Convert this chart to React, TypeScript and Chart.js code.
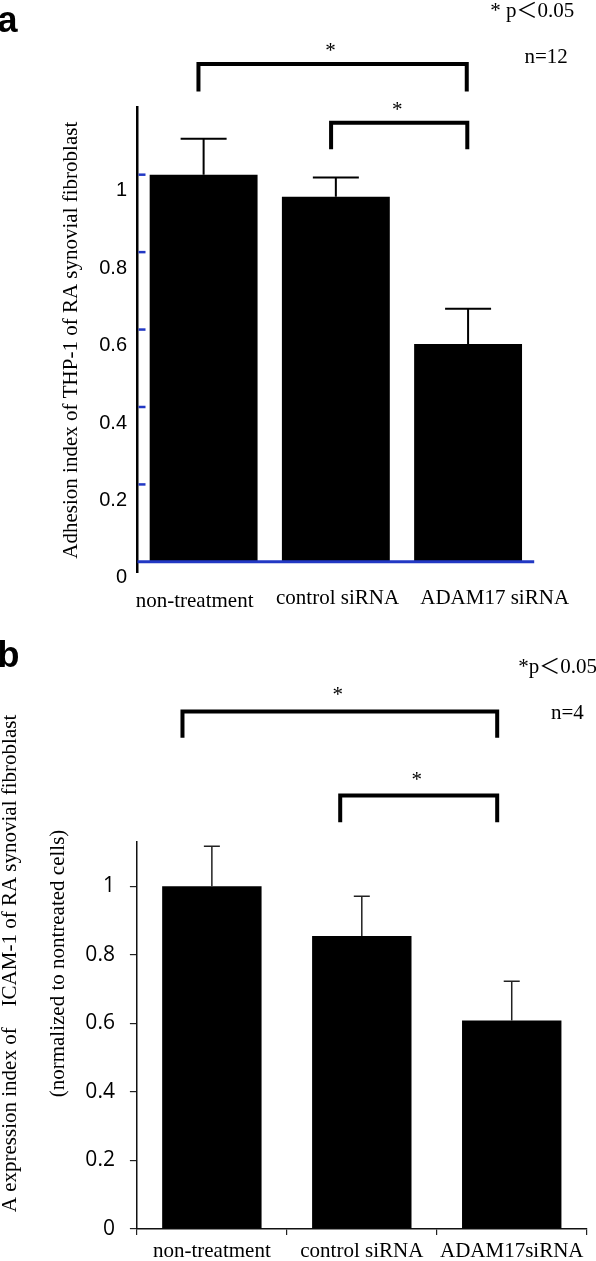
import React, { useEffect, useRef } from 'react';
import { Chart, registerables } from 'chart.js';

Chart.register(...registerables);

// ---------------- Panel a data ----------------
const categoriesA = ['non-treatment', 'control siRNA', 'ADAM17 siRNA'];
const adhesionMeans = [1.0, 0.943, 0.563];
const adhesionErrors = [0.093, 0.05, 0.091];
const yTickValuesA = [0, 0.2, 0.4, 0.6, 0.8, 1];
const yTickLabelsA = ['0', '0.2', '0.4', '0.6', '0.8', '1'];
const yTitleA = 'Adhesion index of THP-1 of RA synovial fibroblast';
const panelLabelA = 'a';
const significanceA = '* p\uFF1C0.05';
const sampleSizeA = 'n=12';
const comparisonsA = [[0, 2], [1, 2]];
const starTextA = ['*', '*'];

// ---------------- Panel b data ----------------
const categoriesB = ['non-treatment', 'control siRNA', 'ADAM17siRNA'];
const icamMeans = [1.0, 0.855, 0.608];
const icamErrors = [0.117, 0.116, 0.115];
const yTickValuesB = [0, 0.2, 0.4, 0.6, 0.8, 1];
const yTickLabelsB = ['0', '0.2', '0.4', '0.6', '0.8', '1'];
const yTitleB = [
  'A expression index of\u3000ICAM-1 of RA synovial fibroblast',
  '(normalized to nontreated cells)',
];
const panelLabelB = 'b';
const significanceB = '*p\uFF1C0.05';
const sampleSizeB = 'n=4';
const comparisonsB = [[0, 2], [1, 2]];
const starTextB = ['*', '*'];

// ---------------- styling / layout ----------------
const SERIF = '"Liberation Serif", "Noto Sans CJK JP", serif';
const SANS = '"Liberation Sans", Arial, sans-serif';
const BLUE = '#2238c4';

// bracket geometry: offsets (in category units) from the compared categories, heights in data units
const bracketGeomA = [
  { dx0: -0.039, dx1: -0.01, top: 1.286, leg: 1.215, star: 1.331 },
  { dx0: -0.036, dx1: -0.006, top: 1.134, leg: 1.066, star: 1.1785 },
];
const bracketGeomB = [
  { dx0: -0.196, dx1: -0.097, top: 1.51, leg: 1.4335, star: 1.5685 },
  { dx0: -0.144, dx1: -0.097, top: 1.265, leg: 1.187, star: 1.3207 },
];

function drawBrackets(chart: any, pairs: number[][], geom: any[], stars: string[], lw: number) {
  const { ctx, scales } = chart;
  const x = scales.x;
  const y = scales.y;
  ctx.save();
  ctx.strokeStyle = '#000';
  ctx.lineWidth = lw;
  ctx.lineJoin = 'miter';
  ctx.lineCap = 'butt';
  pairs.forEach((p, i) => {
    const g = geom[i];
    const x0 = x.getPixelForValue(p[0] + g.dx0);
    const x1 = x.getPixelForValue(p[1] + g.dx1);
    const yt = y.getPixelForValue(g.top);
    const yl = y.getPixelForValue(g.leg);
    ctx.beginPath();
    ctx.moveTo(x0, yl);
    ctx.lineTo(x0, yt);
    ctx.lineTo(x1, yt);
    ctx.lineTo(x1, yl);
    ctx.stroke();
    const ys = y.getPixelForValue(g.star);
    ctx.fillStyle = '#000';
    ctx.font = '21px ' + SERIF;
    ctx.textAlign = 'center';
    ctx.textBaseline = 'alphabetic';
    ctx.fillText(stars[i], (x0 + x1) / 2 - 2, ys + 10);
  });
  ctx.restore();
}

function errorBars(errors: number[], color: string, lw: number, cap: number) {
  return {
    id: 'errorBars',
    afterDatasetsDraw(chart: any) {
      const { ctx } = chart;
      const y = chart.scales.y;
      const meta = chart.getDatasetMeta(0);
      const values = chart.data.datasets[0].data as number[];
      ctx.save();
      ctx.strokeStyle = color;
      ctx.lineWidth = lw;
      meta.data.forEach((bar: any, i: number) => {
        const bx = bar.x;
        const y0 = y.getPixelForValue(values[i]);
        const y1 = y.getPixelForValue(values[i] + errors[i]);
        ctx.beginPath();
        ctx.moveTo(bx, y0);
        ctx.lineTo(bx, y1);
        ctx.moveTo(bx - cap / 2, y1);
        ctx.lineTo(bx + cap / 2, y1);
        ctx.stroke();
      });
      ctx.restore();
    },
  };
}

const annotationsA = {
  id: 'annotationsA',
  afterDraw(chart: any) {
    const { ctx, chartArea, scales } = chart;
    const x = scales.x;
    const y = scales.y;
    ctx.save();
    // blue inner ticks
    ctx.strokeStyle = BLUE;
    ctx.lineWidth = 2.5;
    yTickValuesA.forEach((v) => {
      if (v === 0) return;
      const py = y.getPixelForValue(v);
      ctx.beginPath();
      ctx.moveTo(chartArea.left + 1, py);
      ctx.lineTo(chartArea.left + 8, py);
      ctx.stroke();
    });
    // blue baseline at 0
    const y0 = y.getPixelForValue(0);
    ctx.lineWidth = 3;
    ctx.beginPath();
    ctx.moveTo(chartArea.left, y0);
    ctx.lineTo(chartArea.right, y0);
    ctx.stroke();
    // category labels
    const labelDx = [-0.068, 0.013, 0.201];
    const labelDy = [34, 30.8, 30.8];
    ctx.fillStyle = '#000';
    ctx.font = '21px ' + SERIF;
    ctx.textAlign = 'center';
    ctx.textBaseline = 'alphabetic';
    categoriesA.forEach((c, i) => {
      ctx.fillText(c, x.getPixelForValue(i + labelDx[i]), chartArea.bottom + labelDy[i]);
    });
    // panel letter
    ctx.font = 'bold 36px ' + SANS;
    ctx.textAlign = 'left';
    ctx.fillText(panelLabelA, -2.5, 31.7);
    // significance note + n
    ctx.font = '21px ' + SERIF;
    ctx.textAlign = 'center';
    ctx.fillText(significanceA, 532.3, 16.5);
    ctx.fillText(sampleSizeA, 546.2, 63.3);
    ctx.restore();
    drawBrackets(chart, comparisonsA, bracketGeomA, starTextA, 4);
  },
};

const annotationsB = {
  id: 'annotationsB',
  afterDraw(chart: any) {
    const { ctx } = chart;
    ctx.save();
    ctx.fillStyle = '#000';
    // y title (two lines, rotated)
    ctx.font = '21px ' + SERIF;
    ctx.textAlign = 'center';
    ctx.textBaseline = 'alphabetic';
    const titleX = [15.5, 63.5];
    yTitleB.forEach((t, i) => {
      ctx.save();
      ctx.translate(titleX[i], 343.5);
      ctx.rotate(-Math.PI / 2);
      ctx.fillText(t, 0, 0);
      ctx.restore();
    });
    // panel letter
    ctx.font = 'bold 36px ' + SANS;
    ctx.textAlign = 'left';
    ctx.fillText(panelLabelB, -2.5, 46.7);
    ctx.font = '21px ' + SERIF;
    ctx.textAlign = 'left';
    ctx.fillText(significanceB, 518.3, 52.7);
    ctx.textAlign = 'center';
    ctx.fillText(sampleSizeB, 567.3, 99.3);
    ctx.restore();
    drawBrackets(chart, comparisonsB, bracketGeomB, starTextB, 4);
  },
};

function configA(): any {
  return {
    type: 'bar',
    data: {
      labels: categoriesA,
      datasets: [
        {
          data: adhesionMeans,
          backgroundColor: '#000',
          borderWidth: 0,
          barPercentage: 0.816,
          categoryPercentage: 1,
        },
      ],
    },
    options: {
      responsive: false,
      animation: false,
      layout: { padding: { left: 0, top: 107.7, right: 61.8, bottom: 47.3 } },
      plugins: { legend: { display: false }, tooltip: { enabled: false } },
      scales: {
        x: { display: false },
        y: {
          min: -0.028,
          max: 1.173,
          afterBuildTicks: (s: any) => {
            s.ticks = yTickValuesA.map((v) => ({ value: v }));
          },
          afterFit: (s: any) => {
            s.width = 137.5;
          },
          grid: { display: false, drawTicks: false },
          border: { display: true, color: '#000', width: 2.5 },
          ticks: {
            callback: (_v: any, i: number) => yTickLabelsA[i],
            font: { family: SANS, size: 20 },
            color: '#000',
            padding: 10.5,
            labelOffset: 16,
          },
          title: {
            display: true,
            text: yTitleA,
            font: { family: SERIF, size: 21 },
            color: '#000',
            padding: { top: 58.9, bottom: 0 },
          },
        },
      },
    },
    plugins: [errorBars(adhesionErrors, '#000', 2, 46), annotationsA],
  };
}

function configB(): any {
  return {
    type: 'bar',
    data: {
      labels: categoriesB,
      datasets: [
        {
          data: icamMeans,
          backgroundColor: '#000',
          borderWidth: 0,
          barPercentage: 0.663,
          categoryPercentage: 1,
        },
      ],
    },
    options: {
      responsive: false,
      animation: false,
      layout: { padding: { left: 0, top: 221.7, right: 9.3, bottom: 0 } },
      plugins: { legend: { display: false }, tooltip: { enabled: false } },
      scales: {
        x: {
          afterFit: (s: any) => {
            s.height = 32;
          },
          grid: {
            display: true,
            drawOnChartArea: false,
            drawTicks: true,
            tickLength: 6,
            color: '#222',
            lineWidth: 1.2,
            offset: true,
          },
          border: { display: true, color: '#111', width: 1.5 },
          ticks: {
            font: { family: SERIF, size: 21 },
            color: '#000',
            padding: 4,
            maxRotation: 0,
            minRotation: 0,
            autoSkip: false,
          },
        },
        y: {
          min: 0,
          max: 1.13,
          afterBuildTicks: (s: any) => {
            s.ticks = yTickValuesB.map((v) => ({ value: v }));
          },
          afterFit: (s: any) => {
            s.width = 136.9;
          },
          grid: {
            display: true,
            drawOnChartArea: false,
            drawTicks: true,
            tickLength: 7,
            color: '#222',
            lineWidth: 1.2,
          },
          border: { display: true, color: '#111', width: 1.5 },
          ticks: {
            callback: (_v: any, i: number) => yTickLabelsB[i],
            font: { family: '"Open Sans", "Noto Sans", sans-serif', size: 21 },
            color: '#000',
            padding: 15,
          },
        },
      },
    },
    plugins: [errorBars(icamErrors, '#222', 1.5, 16), annotationsB],
  };
}

function Panel({ make, top, height }: { make: () => any; top: number; height: number }) {
  const ref = useRef<HTMLCanvasElement>(null);
  useEffect(() => {
    const chart = new Chart(ref.current as HTMLCanvasElement, make());
    return () => chart.destroy();
  }, [make]);
  return (
    <canvas
      ref={ref}
      width={596}
      height={height}
      style={{ position: 'absolute', left: 0, top, width: 596, height, display: 'block' }}
    />
  );
}

export default function App() {
  return (
    <div style={{ position: 'absolute', left: 0, top: 0, width: 596, height: 1261, background: '#fff' }}>
      <Panel make={configA} top={0} height={620} />
      <Panel make={configB} top={620} height={641} />
    </div>
  );
}
